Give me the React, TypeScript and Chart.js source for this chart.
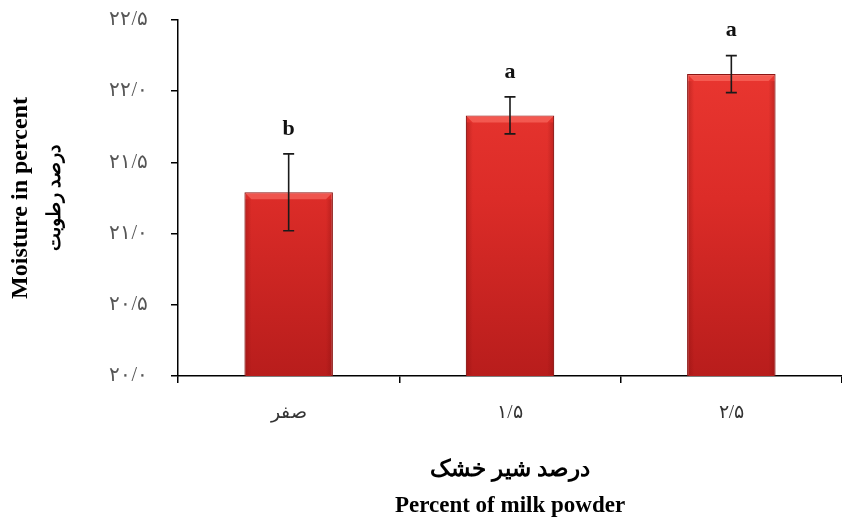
import React, { useEffect, useRef } from "react";
import { Chart, registerables } from "chart.js";

Chart.register(...registerables);

const categories = ["صفر", "۱/۵", "۲/۵"];
const moisture = [21.29, 21.83, 22.12];
const errors = [0.27, 0.13, 0.13];
const letters = ["b", "a", "a"];
const yTicks = [20.0, 20.5, 21.0, 21.5, 22.0, 22.5];
const yTickLabels = ["۲۰/۰", "۲۰/۵", "۲۱/۰", "۲۱/۵", "۲۲/۰", "۲۲/۵"];
const yTitle = "Moisture in percent";
const yTitleFa = "درصد رطوبت";
const xTitle = ["درصد شیر خشک", "Percent of milk powder"];

const SERIF = "'Liberation Serif', 'Times New Roman', 'DejaVu Serif', serif";

const decorPlugin = {
  id: "decor",
  afterDatasetsDraw(chart: any) {
    const ctx = chart.ctx;
    const meta = chart.getDatasetMeta(0);
    const y = chart.scales.y;
    const area = chart.chartArea;
    const bottom = area.bottom;
    ctx.save();
    meta.data.forEach((bar: any, i: number) => {
      const props = bar.getProps(["x", "y", "width"], true);
      const left = props.x - props.width / 2;
      const right = props.x + props.width / 2;
      const top = props.y;
      // bevel highlight at the top
      const bevel = 7;
      ctx.beginPath();
      ctx.moveTo(left + 1, top + 1);
      ctx.lineTo(right - 1, top + 1);
      ctx.lineTo(right - bevel, top + bevel);
      ctx.lineTo(left + bevel, top + bevel);
      ctx.closePath();
      ctx.fillStyle = "rgba(255,120,110,0.55)";
      ctx.fill();
      // side shading
      const sg = ctx.createLinearGradient(left, 0, right, 0);
      sg.addColorStop(0, "rgba(120,10,10,0.35)");
      sg.addColorStop(0.08, "rgba(120,10,10,0)");
      sg.addColorStop(0.92, "rgba(120,10,10,0)");
      sg.addColorStop(1, "rgba(120,10,10,0.35)");
      ctx.fillStyle = sg;
      ctx.fillRect(left + 1, top + bevel, right - left - 2, bottom - top - bevel - 1);

      // error bars
      const v = moisture[i];
      const e = errors[i];
      const yHi = y.getPixelForValue(v + e);
      const yLo = y.getPixelForValue(v - e);
      ctx.strokeStyle = "#1a1a1a";
      ctx.lineWidth = 1.6;
      ctx.beginPath();
      ctx.moveTo(props.x, yHi);
      ctx.lineTo(props.x, yLo);
      ctx.moveTo(props.x - 5.5, yHi);
      ctx.lineTo(props.x + 5.5, yHi);
      ctx.moveTo(props.x - 5.5, yLo);
      ctx.lineTo(props.x + 5.5, yLo);
      ctx.stroke();

      // significance letters
      ctx.fillStyle = "#111";
      ctx.font = `bold 22px ${SERIF}`;
      ctx.textAlign = "center";
      ctx.textBaseline = "middle";
      ctx.fillText(letters[i], props.x, yHi - 25);
    });

    // Persian second line of the y-axis title
    ctx.translate(55, (area.top + area.bottom) / 2);
    ctx.rotate(-Math.PI / 2);
    ctx.fillStyle = "#000";
    ctx.font = `bold 19px ${SERIF}`;
    ctx.textAlign = "center";
    ctx.textBaseline = "middle";
    ctx.fillText(yTitleFa, 0, 0);
    ctx.restore();
  },
};

export default function App() {
  const ref = useRef<HTMLCanvasElement | null>(null);

  useEffect(() => {
    if (!ref.current) return;
    const chart = new Chart(ref.current, {
      type: "bar",
      data: {
        labels: categories,
        datasets: [
          {
            data: moisture,
            backgroundColor: (c: any) => {
              const area = c.chart.chartArea;
              if (!area) return "#d92b27";
              const g = c.chart.ctx.createLinearGradient(0, area.top, 0, area.bottom);
              g.addColorStop(0, "#ee3a33");
              g.addColorStop(0.5, "#dc2c28");
              g.addColorStop(1, "#b81d1c");
              return g;
            },
            borderColor: "#8c1513",
            borderWidth: 1.2,
            barPercentage: 0.8,
            categoryPercentage: 0.5,
          },
        ],
      },
      options: {
        responsive: false,
        animation: false,
        layout: { padding: { left: 0, right: 0, top: 20, bottom: 0 } },
        plugins: { legend: { display: false }, tooltip: { enabled: false } },
        scales: {
          x: {
            afterFit: (s: any) => {
              s.height = 144;
            },
            border: { display: true, color: "#000", width: 1.5 },
            grid: {
              display: true,
              drawOnChartArea: false,
              drawTicks: true,
              tickLength: 7,
              color: "#000",
              lineWidth: 1.5,
              offset: true,
            },
            ticks: {
              padding: 19,
              color: "#333",
              font: { family: SERIF, size: 19 },
            },
            title: {
              display: true,
              text: xTitle,
              color: "#000",
              font: { family: SERIF, size: 23, weight: "bold", lineHeight: 1.55 },
              padding: { top: 0, bottom: -3.5 },
            },
          },
          y: {
            min: 20,
            max: 22.5,
            afterFit: (s: any) => {
              s.width = 178;
              s.paddingTop = 0;
              s.paddingBottom = 0;
            },
            afterBuildTicks: (s: any) => {
              s.ticks = yTicks.map((v) => ({ value: v }));
            },
            border: { display: true, color: "#000", width: 1.5 },
            grid: {
              display: true,
              drawOnChartArea: false,
              drawTicks: true,
              tickLength: 7,
              color: "#000",
              lineWidth: 1.5,
            },
            ticks: {
              padding: 23,
              color: "#555",
              font: { family: SERIF, size: 20 },
              callback: (_v: any, i: number) => yTickLabels[i],
            },
            title: {
              display: true,
              text: yTitle,
              color: "#000",
              font: { family: SERIF, size: 24, weight: "bold", lineHeight: 1.2 },
              padding: { top: 6, bottom: 0 },
            },
          },
        },
      },
      plugins: [decorPlugin],
    } as any);
    return () => chart.destroy();
  }, []);

  return (
    <div style={{ position: "absolute", left: 0, top: 0, width: 842, height: 520 }}>
      <canvas ref={ref} width={842} height={520} />
    </div>
  );
}
